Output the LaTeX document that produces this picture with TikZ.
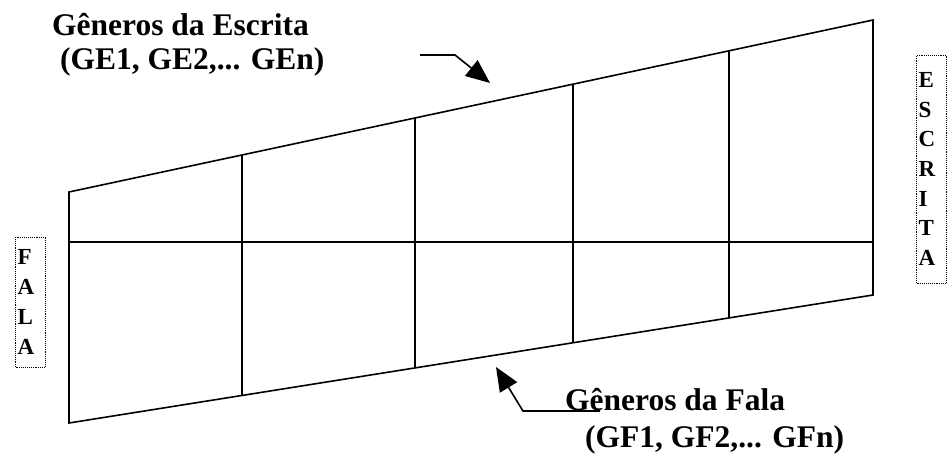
\documentclass[tikz,border=0pt]{standalone}
\usepackage{fontspec}
\setmainfont{Liberation Serif}
\usetikzlibrary{arrows.meta,calc}

\tikzset{
  grade/.style={line width=1.6pt},
  seta/.style={line width=1.6pt,-{Triangle[length=24pt,width=20pt]}},
  titulo/.style={anchor=west,inner sep=0pt,font=\fontsize{31.5}{36}\selectfont\bfseries},
  letras/.style={draw,densely dotted,line width=0.9pt,inner sep=2pt,text width=26pt,align=left,
    font=\fontsize{23}{29.7}\selectfont\bfseries},
}

\begin{document}
\begin{tikzpicture}[x=1pt,y=-1pt]
\useasboundingbox (0,0) rectangle (947,457);
% contorno do trapezio
\coordinate (a1) at (69,192);
\coordinate (a6) at (873,20);
\coordinate (b1) at (69,423);
\coordinate (b6) at (873,295);
\coordinate (m1) at (69,242);
\coordinate (m6) at (873,242);
\draw[grade] (a1) -- (a6) -- (b6) -- (b1) -- cycle;
\draw[grade] (m1) -- (m6);
% divisoes verticais
\foreach \t [count=\i] in {0.215,0.430,0.627,0.821}{
  \coordinate (t\i) at ($(a1)!\t!(a6)$);
  \coordinate (u\i) at ($(b1)!\t!(b6)$);
  \draw[grade] (t\i) -- (u\i);
}
% rotulos
\node[titulo] (ge1) at (52,25) {Gêneros da Escrita};
\node[titulo] (ge2) at (60,62) {(GE1, GE2,... GEn)};
\node[titulo] (gf1) at (565,400) {Gêneros da Fala};
\node[titulo] (gf2) at (585,440) {(GF1, GF2,... GFn)};
% setas
\coordinate (e0) at (420,55);
\coordinate (e1) at (455,55);
\coordinate (e2) at (490,83);
\draw[seta] (e0) -- (e1) -- (e2);
\coordinate (f0) at (600,411);
\coordinate (f1) at (523,411);
\coordinate (f2) at (496,367);
\draw[seta] (f0) -- (f1) -- (f2);
% caixas laterais
\node[letras,minimum height=130pt] (fala) at (30.5,302) {F\\A\\L\\A};
\node[letras,minimum height=228pt] (escrita) at (931.5,169) {E\\S\\C\\R\\I\\T\\A};
\end{tikzpicture}
\end{document}
